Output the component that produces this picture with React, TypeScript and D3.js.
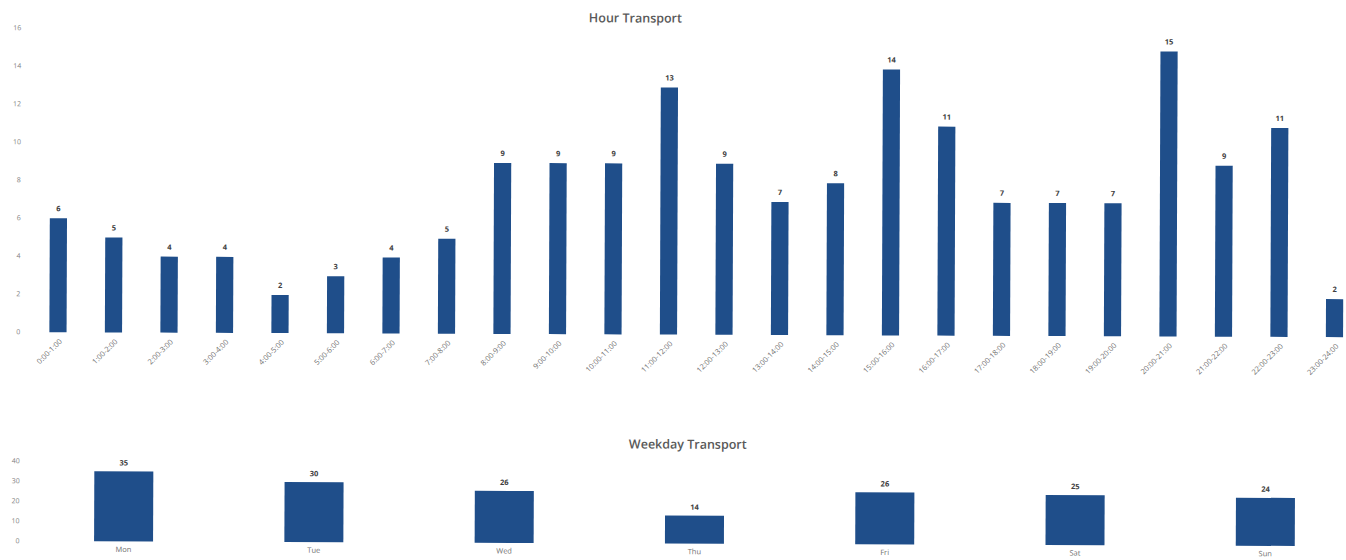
import * as d3 from 'd3'

// hourly counts
const hours = [
  '0:00-1:00', '1:00-2:00', '2:00-3:00', '3:00-4:00', '4:00-5:00', '5:00-6:00',
  '6:00-7:00', '7:00-8:00', '8:00-9:00', '9:00-10:00', '10:00-11:00', '11:00-12:00',
  '12:00-13:00', '13:00-14:00', '14:00-15:00', '15:00-16:00', '16:00-17:00', '17:00-18:00',
  '18:00-19:00', '19:00-20:00', '20:00-21:00', '21:00-22:00', '22:00-23:00', '23:00-24:00',
]
const hourValues = [6, 5, 4, 4, 2, 3, 4, 5, 9, 9, 9, 13, 9, 7, 8, 14, 11, 7, 7, 7, 15, 9, 11, 2]
const hourTicks = [0, 2, 4, 6, 8, 10, 12, 14, 16]

// weekday counts
const days = ['Mon', 'Tue', 'Wed', 'Thu', 'Fri', 'Sat', 'Sun']
const dayValues = [35, 30, 26, 14, 26, 25, 24]
const dayTicks = [0, 10, 20, 30, 40]

const W = 1346
const H = 560
const barColor = '#1f4e8a'
const font = '"Open Sans", "Liberation Sans", sans-serif'

export default function App() {
  // top chart
  const x1 = d3.scaleBand<string>().domain(hours).range([30, 1362]).paddingInner(0.69).paddingOuter(0.345)
  const y1 = d3.scaleLinear().domain([0, 16]).range([332, 28])

  // bottom chart
  const x2 = d3.scaleBand<string>().domain(days).range([29, 1361]).paddingInner(0.69).paddingOuter(0.345)
  const y2 = d3.scaleLinear().domain([0, 40]).range([541, 461])

  return (
    <svg width={W} height={H} style={{ position: 'absolute', left: 0, top: 0, background: '#fff' }} fontFamily={font}>
      {/* the source is a slightly tilted scan */}
      <g transform="translate(1.5,0) rotate(0.22)">
        <text x={634} y={20} textAnchor="middle" fontSize={12.5} fontWeight={600} fill="#595959">Hour Transport</text>

        {hourTicks.map(t => (
          <text key={'ht' + t} x={20} y={y1(t)} dy="0.32em" textAnchor="end" fontSize={7} fill="#7f7f7f">{t}</text>
        ))}

        {hours.map((h, i) => (
          <g key={h}>
            <rect x={x1(h)} y={y1(hourValues[i])} width={x1.bandwidth()} height={y1(0) - y1(hourValues[i])} fill={barColor} />
            <text x={x1(h)! + x1.bandwidth() / 2} y={y1(hourValues[i]) - 7} textAnchor="middle" fontSize={7.5} fontWeight={700} fill="#404040">{hourValues[i]}</text>
            <text
              transform={`translate(${x1(h)! + x1.bandwidth() / 2 + 3},${y1(0) + 8}) rotate(-45)`}
              textAnchor="end" dy="0.32em" fontSize={7.5} fill="#6f6f6f">{h}</text>
          </g>
        ))}

        <text x={688} y={446} textAnchor="middle" fontSize={12.5} fontWeight={600} fill="#595959">Weekday Transport</text>

        {dayTicks.map(t => (
          <text key={'dt' + t} x={20} y={y2(t)} dy="0.32em" textAnchor="end" fontSize={7} fill="#7f7f7f">{t}</text>
        ))}

        {days.map((d, i) => (
          <g key={d}>
            <rect x={x2(d)} y={y2(dayValues[i])} width={x2.bandwidth()} height={y2(0) - y2(dayValues[i])} fill={barColor} />
            <text x={x2(d)! + x2.bandwidth() / 2} y={y2(dayValues[i]) - 6} textAnchor="middle" fontSize={7.5} fontWeight={700} fill="#404040">{dayValues[i]}</text>
            <text x={x2(d)! + x2.bandwidth() / 2} y={y2(0) + 10.5} textAnchor="middle" fontSize={7.5} fill="#6f6f6f">{d}</text>
          </g>
        ))}
      </g>
    </svg>
  )
}
